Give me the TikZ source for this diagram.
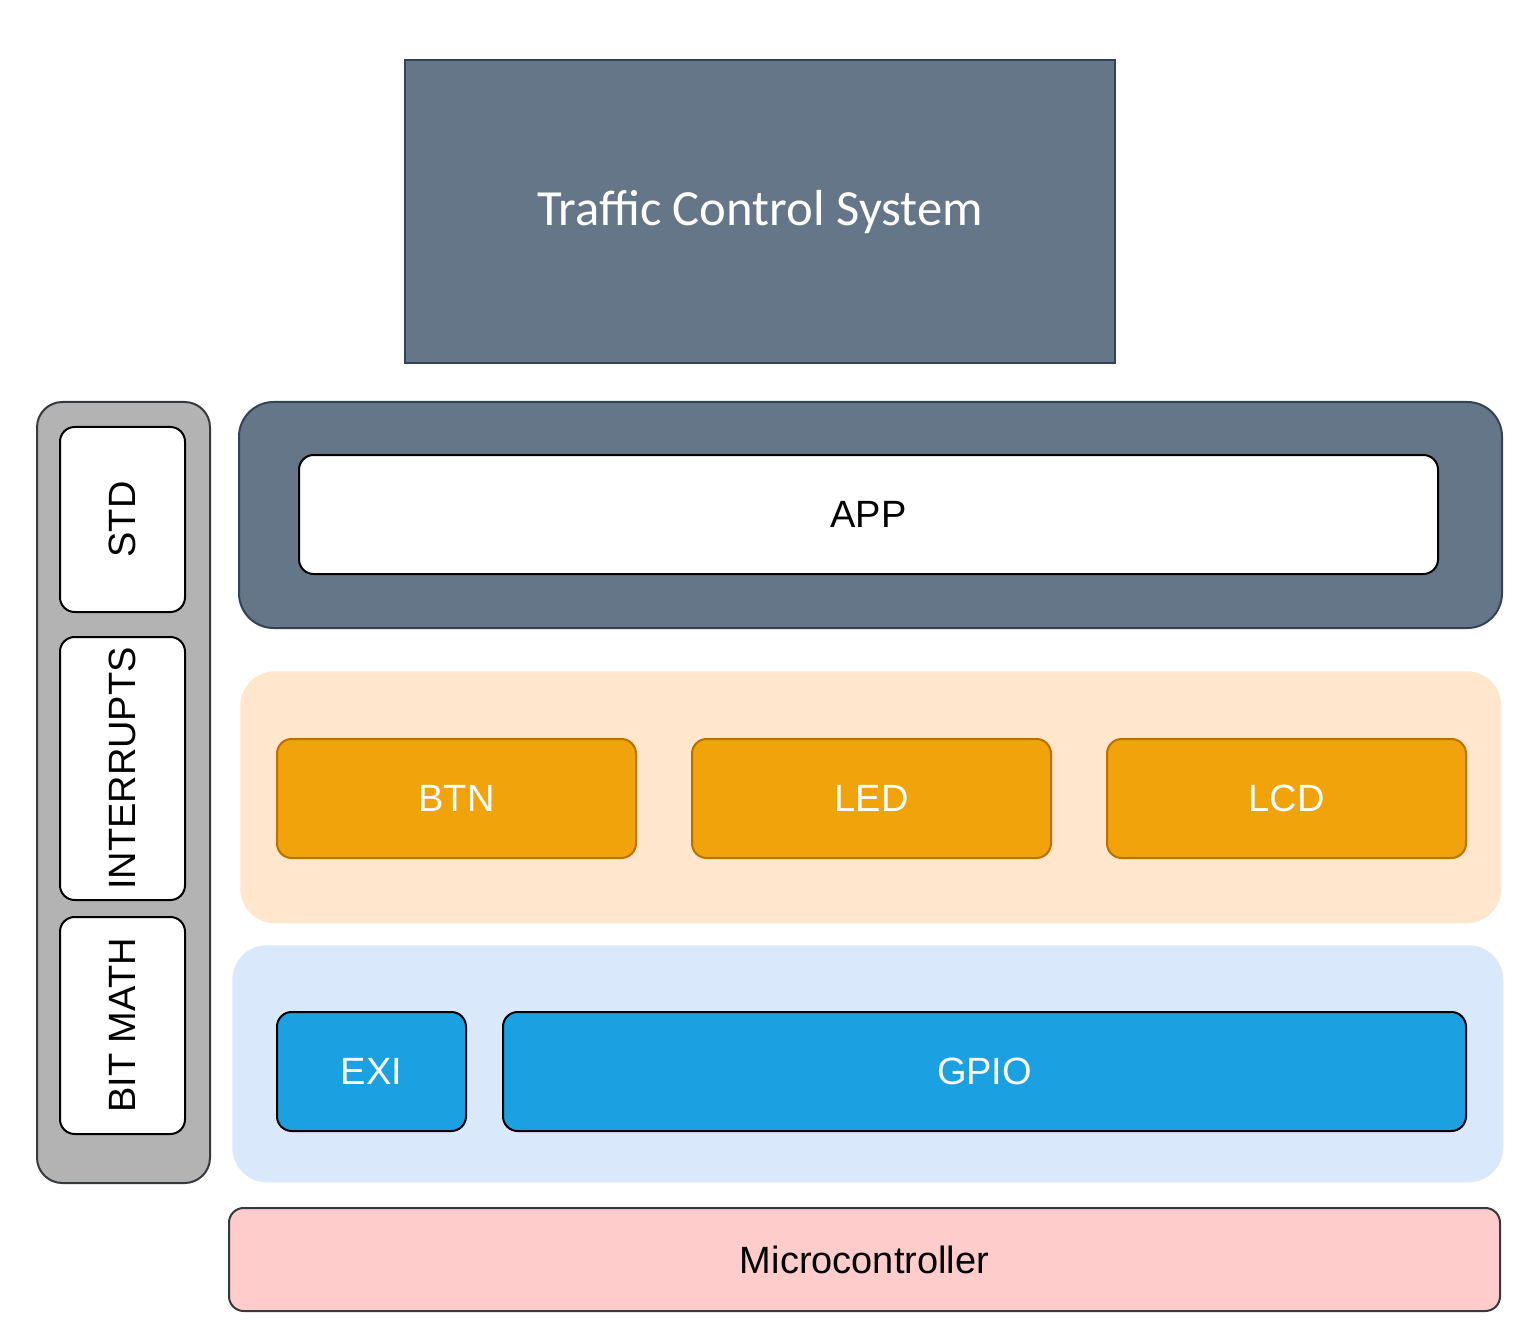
\documentclass[tikz,border=0pt]{standalone}
\usepackage{fontspec}
\setmainfont{Liberation Sans}
\newfontfamily\titlefont{Carlito}
\definecolor{slate}{HTML}{647687}
\definecolor{slateline}{HTML}{314354}
\definecolor{peach}{HTML}{FFE6CC}
\definecolor{amber}{HTML}{F0A30A}
\definecolor{amberline}{HTML}{BD7000}
\definecolor{skyfill}{HTML}{DAE8FC}
\definecolor{cyanbox}{HTML}{1BA1E2}
\definecolor{rosefill}{HTML}{FFCCCC}
\definecolor{darkline}{HTML}{36393D}
\definecolor{greyfill}{HTML}{B3B3B3}
\tikzset{
  layer/.style={anchor=north west, inner sep=0pt, rounded corners=26pt},
  module/.style={anchor=north west, inner sep=0pt, rounded corners=11pt, line width=1.5pt,
    font=\fontsize{28.5}{34}\selectfont},
  sidebox/.style={rotate=90, inner sep=0pt, rounded corners=11pt, line width=1.5pt,
    draw=black, fill=white, font=\fontsize{28.5}{34}\selectfont},
}
\begin{document}
\begin{tikzpicture}[x=1pt,y=-1pt]
  \useasboundingbox (0,0) rectangle (1151.25,1002.75);

  % top block
  \node[anchor=north west, inner sep=0pt, fill=slate, draw=slateline, line width=1.5pt,
        minimum width=532.5pt, minimum height=227.25pt, text=white,
        font=\titlefont\fontsize{38}{44}\selectfont] (tcs) at (303,44.25) {Traffic Control System};

  % application layer
  \node[layer, fill=slate, draw=slateline, line width=1.5pt,
        minimum width=947.25pt, minimum height=169.5pt] (applayer) at (178.5,300.75) {};
  \node[module, fill=white, draw=black, minimum width=854.25pt, minimum height=89.25pt] (app) at (223.5,340.5) {APP};

  % driver layer
  \node[layer, fill=peach, minimum width=945.75pt, minimum height=189pt] (drvlayer) at (180,503.25) {};
  \node[module, fill=amber, draw=amberline, text=white, minimum width=269.25pt, minimum height=89.25pt] (btn) at (207,553.5) {BTN};
  \node[module, fill=amber, draw=amberline, text=white, minimum width=269.25pt, minimum height=89.25pt] (led) at (518.25,553.5) {LED};
  \node[module, fill=amber, draw=amberline, text=white, minimum width=269.25pt, minimum height=89.25pt] (lcd) at (829.5,553.5) {LCD};

  % mcal layer
  \node[layer, fill=skyfill, minimum width=953.25pt, minimum height=177.75pt] (mcallayer) at (174,708.75) {};
  \node[module, fill=cyanbox, draw=black, text=white, minimum width=141.75pt, minimum height=89.25pt] (exi) at (207,758.25) {EXI};
  \node[module, fill=cyanbox, draw=black, text=white, minimum width=722.25pt, minimum height=89.25pt] (gpio) at (376.5,758.25) {GPIO};

  % hardware
  \node[module, fill=rosefill, draw=darkline, minimum width=953.25pt, minimum height=77.25pt] (mcu) at (171,905.25) {Microcontroller};

  % common libraries
  \node[layer, rounded corners=19pt, fill=greyfill, draw=darkline, line width=1.5pt,
        minimum width=129.75pt, minimum height=585.75pt] (libs) at (27,300.75) {};
  \node[sidebox, minimum width=138.75pt, minimum height=93.75pt] (std) at (91.875,389.625) {STD};
  \node[sidebox, minimum width=197.25pt, minimum height=93.75pt] (irq) at (91.875,576.375) {INTERRUPTS};
  \node[sidebox, minimum width=162.75pt, minimum height=93.75pt] (bitmath) at (91.875,769.125) {BIT MATH};
\end{tikzpicture}
\end{document}
